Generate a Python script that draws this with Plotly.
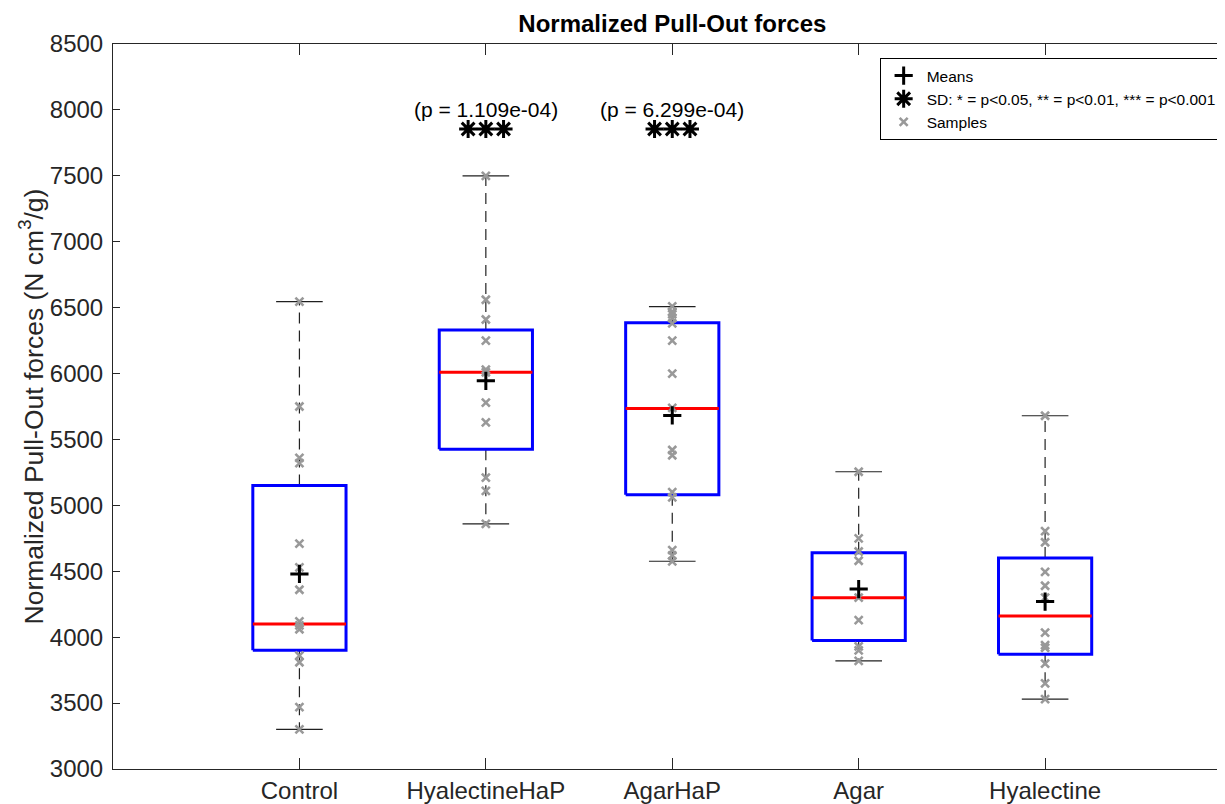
import plotly.graph_objects as go

# ---- data ----
categories = ["Control", "HyalectineHaP", "AgarHaP", "Agar", "Hyalectine"]

control_samples = [6545, 5750, 5360, 5320, 4710, 4530, 4360, 4120, 4090, 4060, 3860, 3810, 3470, 3300]
hyalhap_samples = [7500, 6560, 6410, 6250, 6030, 6010, 5780, 5630, 5210, 5110, 4860]
agarhap_samples = [6510, 6470, 6450, 6420, 6380, 6250, 6000, 5740, 5420, 5380, 5100, 5060, 4660, 4620, 4575]
agar_samples = [5255, 4750, 4650, 4580, 4300, 4130, 3930, 3900, 3820]
hyal_samples = [5680, 4805, 4720, 4495, 4390, 4300, 4035, 3940, 3920, 3800, 3650, 3530]

upper_whisker = [6545, 7500, 6508, 5255, 5680]
q3_values = [5150, 6330, 6385, 4640, 4600]
median_values = [4100, 6010, 5735, 4300, 4160]
q1_values = [3900, 5425, 5080, 3975, 3870]
lower_whisker = [3300, 4860, 4576, 3820, 3530]
mean_values = [4480, 5945, 5682, 4365, 4270]

sig_groups = [2, 3]
sig_stars = [3, 3]
sig_labels = ["(p = 1.109e-04)", "(p = 6.299e-04)"]
sig_star_y = [7855, 7855]
sig_label_y = [8005, 8005]

y_ticks = [3000, 3500, 4000, 4500, 5000, 5500, 6000, 6500, 7000, 7500, 8000, 8500]

# ---- styles ----
FONT = "Liberation Sans, Arial, Helvetica, sans-serif"
AX = "#262626"
BOX_HALF = 0.25
CAP_HALF = 0.125
STAR_STEP = 0.095
W, H = 1217, 796          # page body has an 8px margin
ML, MT, MB, MR = 105, 36, 35, 0
PLOT_W = W - ML - MR

all_samples = [control_samples, hyalhap_samples, agarhap_samples, agar_samples, hyal_samples]
xs = list(range(1, len(categories) + 1))

fig = go.Figure()

# whiskers (dashed) and caps
wx, wy, cx, cy = [], [], [], []
for x, lo, q1, q3, hi in zip(xs, lower_whisker, q1_values, q3_values, upper_whisker):
    wx += [x, x, None, x, x, None]
    wy += [q3, hi, None, q1, lo, None]
    cx += [x - CAP_HALF, x + CAP_HALF, None, x - CAP_HALF, x + CAP_HALF, None]
    cy += [hi, hi, None, lo, lo, None]
fig.add_trace(go.Scatter(x=wx, y=wy, mode="lines", showlegend=False, hoverinfo="skip",
                         line=dict(color="#222222", width=1.2, dash="11px,7px")))
fig.add_trace(go.Scatter(x=cx, y=cy, mode="lines", showlegend=False, hoverinfo="skip",
                         line=dict(color="#202020", width=1.2)))

# boxes
bx, by = [], []
for x, q1, q3 in zip(xs, q1_values, q3_values):
    bx += [x - BOX_HALF, x + BOX_HALF, x + BOX_HALF, x - BOX_HALF, x - BOX_HALF, None]
    by += [q1, q1, q3, q3, q1, None]
fig.add_trace(go.Scatter(x=bx, y=by, mode="lines", showlegend=False, hoverinfo="skip",
                         line=dict(color="#0000ff", width=3)))

# medians
mx, my = [], []
for x, m in zip(xs, median_values):
    mx += [x - BOX_HALF, x + BOX_HALF, None]
    my += [m, m, None]
fig.add_trace(go.Scatter(x=mx, y=my, mode="lines", showlegend=False, hoverinfo="skip",
                         line=dict(color="#ff0000", width=3)))

# samples
sx, sy = [], []
for x, s in zip(xs, all_samples):
    sx += [x] * len(s)
    sy += s
fig.add_trace(go.Scatter(x=sx, y=sy, mode="markers", name="Samples", legendrank=3,
                         marker=dict(symbol="x-thin", size=8, color="#999999",
                                     line=dict(color="#999999", width=2.6))))

# means
fig.add_trace(go.Scatter(x=xs, y=mean_values, mode="markers", name="Means", legendrank=1,
                         marker=dict(symbol="cross-thin", size=13, color="black",
                                     line=dict(color="black", width=3))))

# significance asterisks
ax_, ay_ = [], []
for g, n, yv in zip(sig_groups, sig_stars, sig_star_y):
    for k in range(n):
        ax_.append(g + (k - (n - 1) / 2) * STAR_STEP)
        ay_.append(yv)
fig.add_trace(go.Scatter(x=ax_, y=ay_, mode="markers",
                         name="SD: * = p<0.05, ** = p<0.01, *** = p<0.001", legendrank=2,
                         marker=dict(symbol="asterisk-open", size=15, color="black",
                                     line=dict(color="black", width=3))))

# invisible carrier so the tick-label axis (y2) is drawn
fig.add_trace(go.Scatter(x=[xs[0]], y=[median_values[0]], yaxis="y2", mode="markers",
                         marker=dict(opacity=0), showlegend=False, hoverinfo="skip"))

for g, lab, yv in zip(sig_groups, sig_labels, sig_label_y):
    fig.add_annotation(x=g, y=yv, text=lab, showarrow=False, xanchor="center", yanchor="middle",
                       font=dict(family=FONT, size=21, color="black"))

# y label
fig.add_annotation(xref="paper", yref="paper", x=-82 / PLOT_W, y=0.5, textangle=-90,
                   text="Normalized Pull-Out forces (N cm<sup>3</sup>/g)", showarrow=False,
                   xanchor="center", yanchor="middle",
                   font=dict(family=FONT, size=26.5, color=AX))

fig.update_layout(
    width=W, height=H,
    margin=dict(l=ML, r=MR, t=MT, b=MB),
    paper_bgcolor="white", plot_bgcolor="white",
    font=dict(family=FONT, color=AX),
    title=dict(text="<b>Normalized Pull-Out forces</b>", x=0.503, xref="paper",
               y=1 - 16 / H, yref="container", yanchor="middle", xanchor="center",
               font=dict(family=FONT, size=24, color="black")),
    showlegend=True,
    legend=dict(x=0.997, y=0.9807, xanchor="right", yanchor="top",
                bgcolor="white", bordercolor="black", borderwidth=1,
                font=dict(family=FONT, size=15.5, color="black"),
                tracegroupgap=0, itemwidth=36),
    xaxis=dict(range=[0, 5.965], tickvals=xs, ticktext=categories,
               ticks="inside", ticklen=11, tickcolor=AX, tickwidth=1,
               showline=True, linecolor=AX, linewidth=1, mirror="ticks",
               showgrid=False, zeroline=False,
               tickfont=dict(family=FONT, size=24, color=AX)),
    yaxis=dict(range=[3000, 8500], tickvals=y_ticks,
               ticks="inside", ticklen=7, tickcolor=AX, tickwidth=1,
               showline=True, linecolor=AX, linewidth=1, mirror="ticks",
               showgrid=False, zeroline=False, showticklabels=False),
    yaxis2=dict(range=[3000, 8500], tickvals=y_ticks, overlaying="y", anchor="free",
                position=0, side="left", ticks="outside", ticklen=5,
                tickcolor="rgba(0,0,0,0)", showline=False,
                showgrid=False, zeroline=False, showticklabels=True,
                tickfont=dict(family=FONT, size=24, color=AX)),
)

fig.write_html("out.html")
